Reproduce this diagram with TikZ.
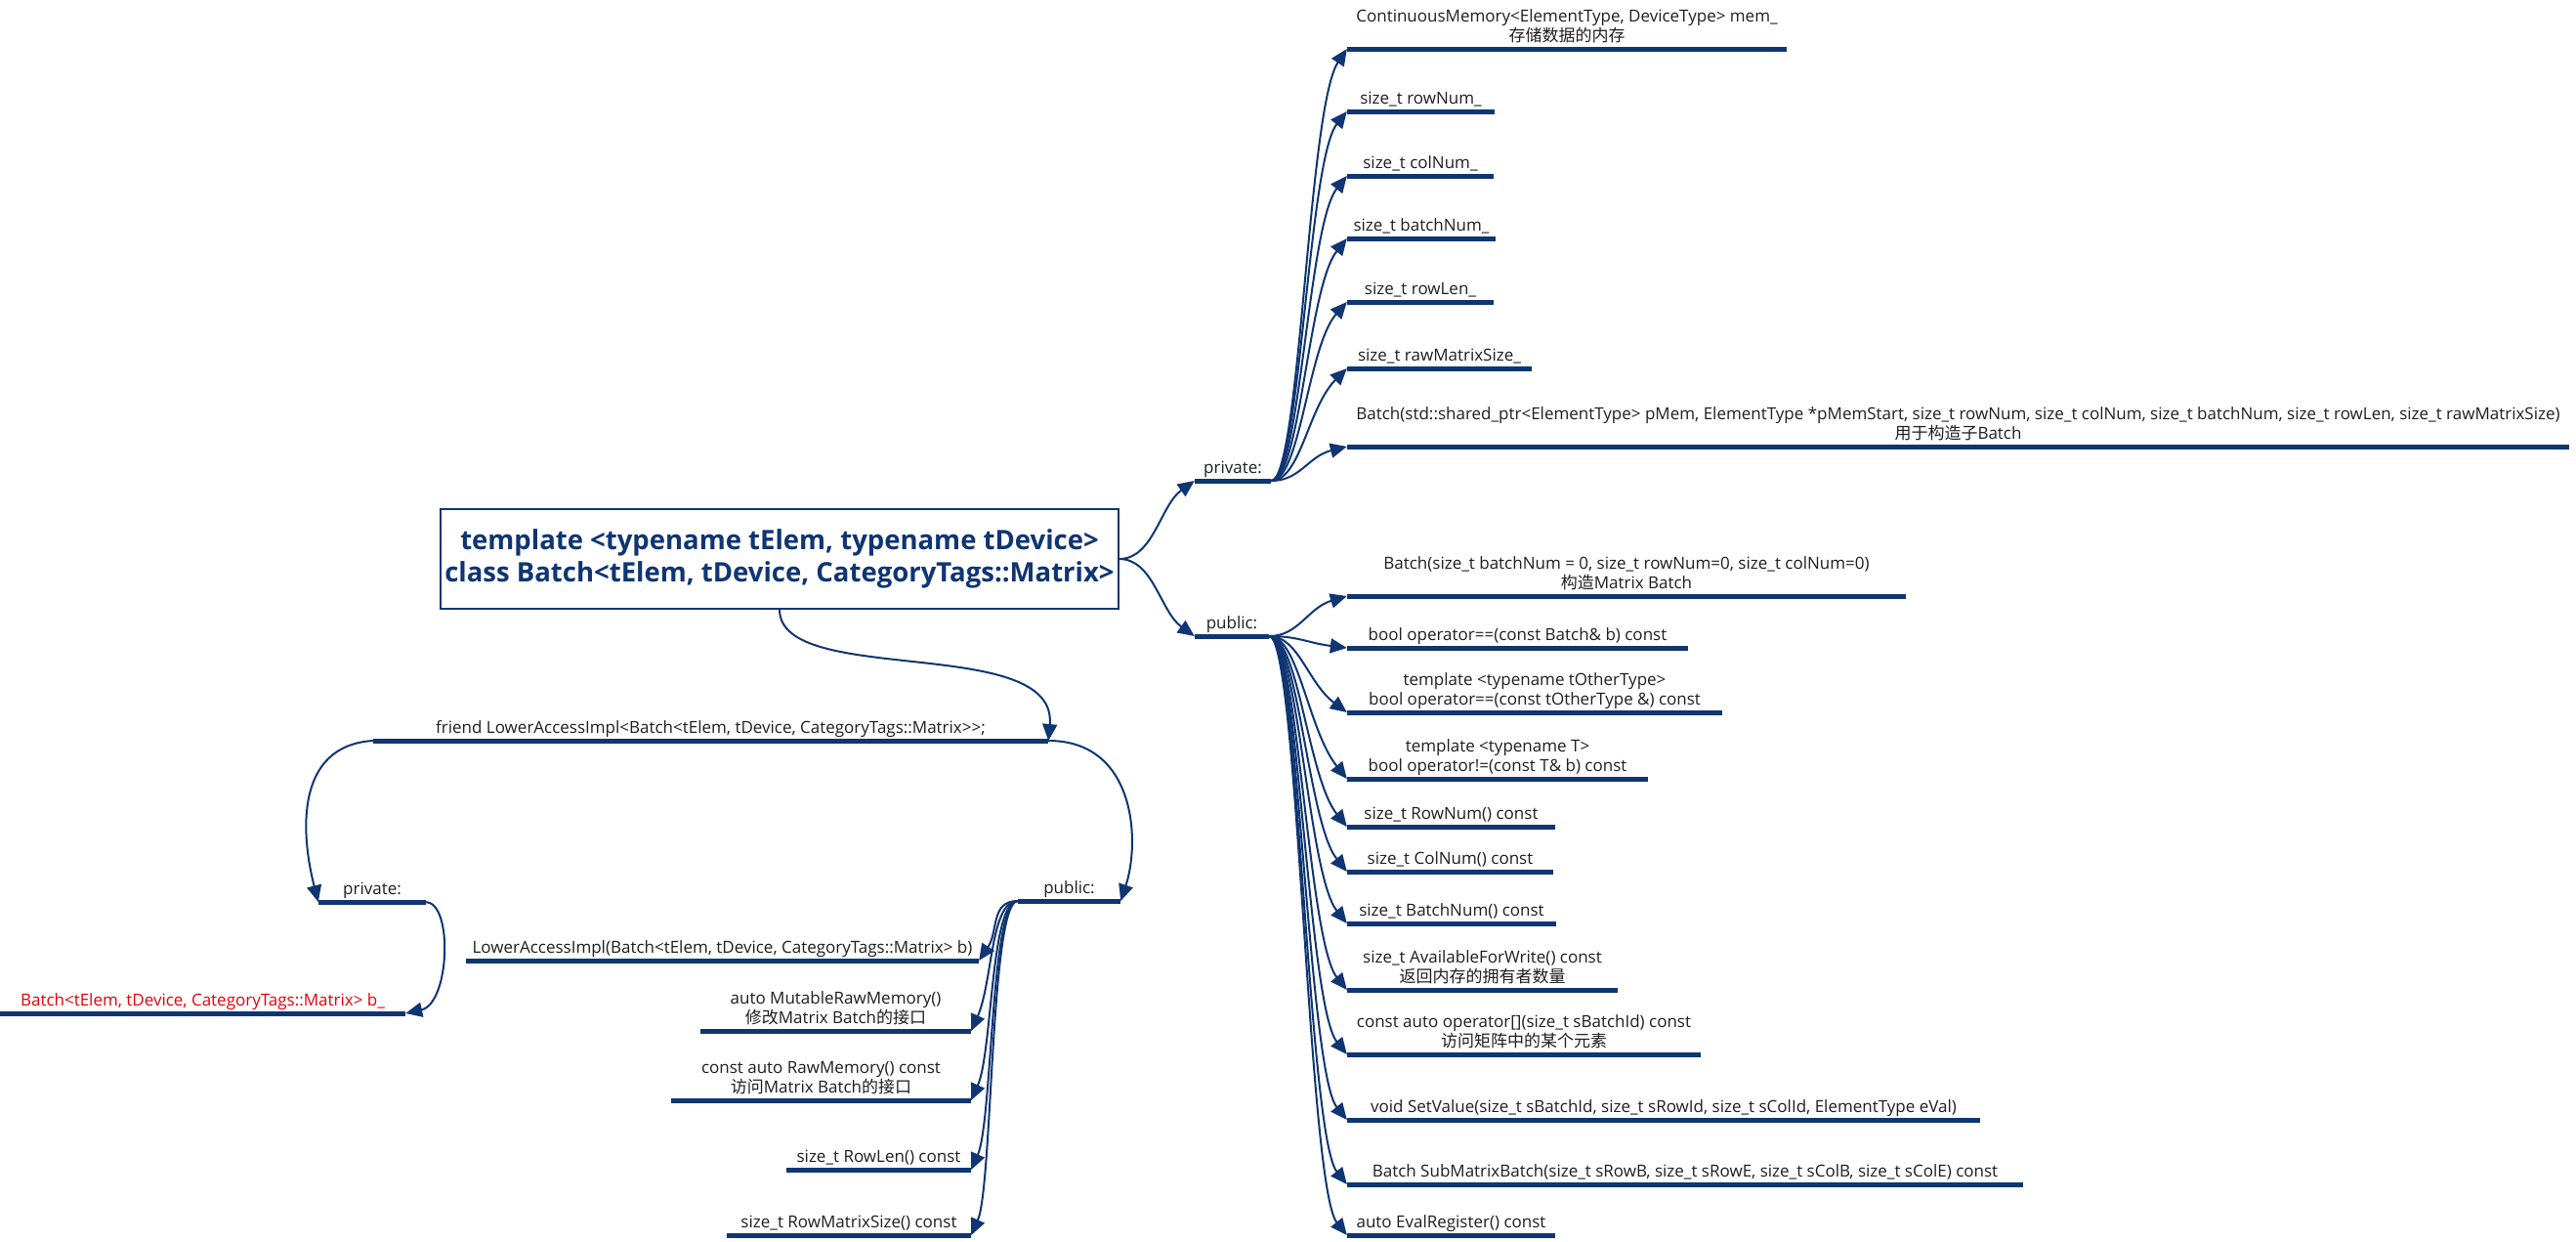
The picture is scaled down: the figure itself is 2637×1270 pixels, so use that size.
\documentclass[tikz,border=0pt]{standalone}
\usepackage{fontspec}
\setmainfont{Open Sans}
\newfontfamily\cjk{Noto Sans CJK SC}
\usetikzlibrary{arrows.meta}
\definecolor{navy}{HTML}{0F3572}
\definecolor{txt}{HTML}{1E1E1E}
\definecolor{redtxt}{HTML}{E8000B}
\tikzset{
  topic/.style={anchor=south, inner xsep=0pt, inner ysep=2pt, align=center,
    font=\fontsize{17}{20}\selectfont, text=txt,
    execute at end node={\rule[-5pt]{0pt}{5pt}}},
  uline/.style={draw=navy, line width=5pt},
  conn/.style={draw=navy, line width=2pt, -{Triangle[length=17pt,width=15pt]}},
  rootbox/.style={draw=navy, line width=1.5pt, fill=white, minimum width=694pt,
    minimum height=102pt, align=center, inner sep=0pt, text=navy,
    font=\bfseries\fontsize{27.5}{33}\selectfont}
}
\begin{document}
\begin{tikzpicture}[x=1pt,y=-1pt]
\useasboundingbox (0,0) rectangle (2637,1270);
% root
\node[rootbox] (root) at (798,572) {template <typename tElem, typename tDevice>\\class Batch<tElem, tDevice, CategoryTags::Matrix>};
% right side level 1
\node[topic, minimum width=78pt] (rpriv) at (1262,492) {private:};
\node[topic, minimum width=76pt] (rpub) at (1261,651) {public:};
% private children
\node[topic, minimum width=450pt] (pv1) at (1604,50) {ContinuousMemory<ElementType, DeviceType> mem\_\\{\cjk 存储数据的内存}};
\node[topic, minimum width=151pt] (pv2) at (1454.5,114) {size\_t rowNum\_};
\node[topic, minimum width=150pt] (pv3) at (1454,180) {size\_t colNum\_};
\node[topic, minimum width=152pt] (pv4) at (1455,244) {size\_t batchNum\_};
\node[topic, minimum width=150pt] (pv5) at (1454,309) {size\_t rowLen\_};
\node[topic, minimum width=189pt] (pv6) at (1473.5,377) {size\_t rawMatrixSize\_};
\node[topic, minimum width=1251pt] (pv7) at (2004.5,457) {Batch(std::shared\_ptr<ElementType> pMem, ElementType *pMemStart, size\_t rowNum, size\_t colNum, size\_t batchNum, size\_t rowLen, size\_t rawMatrixSize)\\{\cjk 用于构造子}Batch};
% public children
\node[topic, minimum width=572pt] (pb1) at (1665,610) {Batch(size\_t batchNum = 0, size\_t rowNum=0, size\_t colNum=0)\\{\cjk 构造}Matrix Batch};
\node[topic, minimum width=349pt] (pb2) at (1553.5,663) {bool operator==(const Batch\& b) const};
\node[topic, minimum width=384pt] (pb3) at (1571,729) {template <typename tOtherType>\\bool operator==(const tOtherType \&) const};
\node[topic, minimum width=308pt] (pb4) at (1533,797) {template <typename T>\\bool operator!=(const T\& b) const};
\node[topic, minimum width=213pt] (pb5) at (1485.5,846) {size\_t RowNum() const};
\node[topic, minimum width=211pt] (pb6) at (1484.5,892) {size\_t ColNum() const};
\node[topic, minimum width=214pt] (pb7) at (1486,945) {size\_t BatchNum() const};
\node[topic, minimum width=277pt] (pb8) at (1517.5,1013) {size\_t AvailableForWrite() const\\{\cjk 返回内存的拥有者数量}};
\node[topic, minimum width=362pt] (pb9) at (1560,1079) {const auto operator[](size\_t sBatchId) const\\{\cjk 访问矩阵中的某个元素}};
\node[topic, minimum width=648pt] (pb10) at (1703,1146) {void SetValue(size\_t sBatchId, size\_t sRowId, size\_t sColId, ElementType eVal)};
\node[topic, minimum width=692pt] (pb11) at (1725,1212) {Batch SubMatrixBatch(size\_t sRowB, size\_t sRowE, size\_t sColB, size\_t sColE) const};
\node[topic, minimum width=213pt] (pb12) at (1485.5,1264) {auto EvalRegister() const};
% left side
\node[topic, minimum width=691pt] (friend) at (727.5,758) {friend LowerAccessImpl<Batch<tElem, tDevice, CategoryTags::Matrix>{}>;};
\node[topic, minimum width=110pt] (lpriv) at (381,923) {private:};
\node[topic, minimum width=105pt] (lpub) at (1094.5,922) {public:};
\node[topic, minimum width=415pt, text=redtxt] (bmem) at (207.5,1037) {Batch<tElem, tDevice, CategoryTags::Matrix> b\_};
\node[topic, minimum width=525pt] (lp1) at (739.5,983) {LowerAccessImpl(Batch<tElem, tDevice, CategoryTags::Matrix> b)};
\node[topic, minimum width=277pt] (lp2) at (855.5,1055) {auto MutableRawMemory()\\{\cjk 修改}Matrix Batch{\cjk 的接口}};
\node[topic, minimum width=307pt] (lp3) at (840.5,1126) {const auto RawMemory() const\\{\cjk 访问}Matrix Batch{\cjk 的接口}};
\node[topic, minimum width=189pt] (lp4) at (899.5,1197) {size\_t RowLen() const};
\node[topic, minimum width=250pt] (lp5) at (869,1264) {size\_t RowMatrixSize() const};
% underlines
\foreach \n in {rpriv,rpub,pv1,pv2,pv3,pv4,pv5,pv6,pv7,pb1,pb2,pb3,pb4,pb5,pb6,pb7,pb8,pb9,pb10,pb11,pb12,friend,lpriv,lpub,bmem,lp1,lp2,lp3,lp4,lp5}
  \draw[uline] (\n.south west) -- (\n.south east);
% connectors from root
\draw[conn] (root.east) .. controls +(35,0) and +(-35,25) .. (rpriv.south west);
\draw[conn] (root.east) .. controls +(35,0) and +(-35,-25) .. (rpub.south west);
\draw[conn] (root.south) .. controls +(0,80) and +(10,-110) .. (friend.south east);
% private children
\draw[conn] (rpriv.south east) .. controls +(30,0) and +(-40,60) .. (pv1.south west);
\draw[conn] (rpriv.south east) .. controls +(30,0) and +(-40,50) .. (pv2.south west);
\draw[conn] (rpriv.south east) .. controls +(30,0) and +(-40,50) .. (pv3.south west);
\draw[conn] (rpriv.south east) .. controls +(30,0) and +(-40,50) .. (pv4.south west);
\draw[conn] (rpriv.south east) .. controls +(30,0) and +(-40,45) .. (pv5.south west);
\draw[conn] (rpriv.south east) .. controls +(30,0) and +(-40,40) .. (pv6.south west);
\draw[conn] (rpriv.south east) .. controls +(30,0) and +(-40,10) .. (pv7.south west);
% public children
\draw[conn] (rpub.south east) .. controls +(30,0) and +(-40,12) .. (pb1.south west);
\draw[conn] (rpub.south east) .. controls +(30,0) and +(-40,-5) .. (pb2.south west);
\draw[conn] (rpub.south east) .. controls +(30,0) and +(-40,-30) .. (pb3.south west);
\foreach \n in {pb4,pb5,pb6,pb7,pb8,pb9,pb10,pb11,pb12}
  \draw[conn] (rpub.south east) .. controls +(30,0) and +(-40,-50) .. (\n.south west);
% left side connectors
\draw[conn] (friend.south east) .. controls +(90,0) and +(20,-60) .. (lpub.south east);
\draw[conn] (friend.south west) .. controls +(-80,5) and +(-18,-70) .. (lpriv.south west);
\draw[conn] (lpriv.south east) .. controls +(28,2) and +(45,-10) .. (bmem.south east);
\draw[conn] (lpub.south west) .. controls +(-28,0) and +(20,-30) .. (lp1.south east);
\foreach \n in {lp2,lp3,lp4,lp5}
  \draw[conn] (lpub.south west) .. controls +(-28,0) and +(22,-50) .. (\n.south east);
\end{tikzpicture}
\end{document}
